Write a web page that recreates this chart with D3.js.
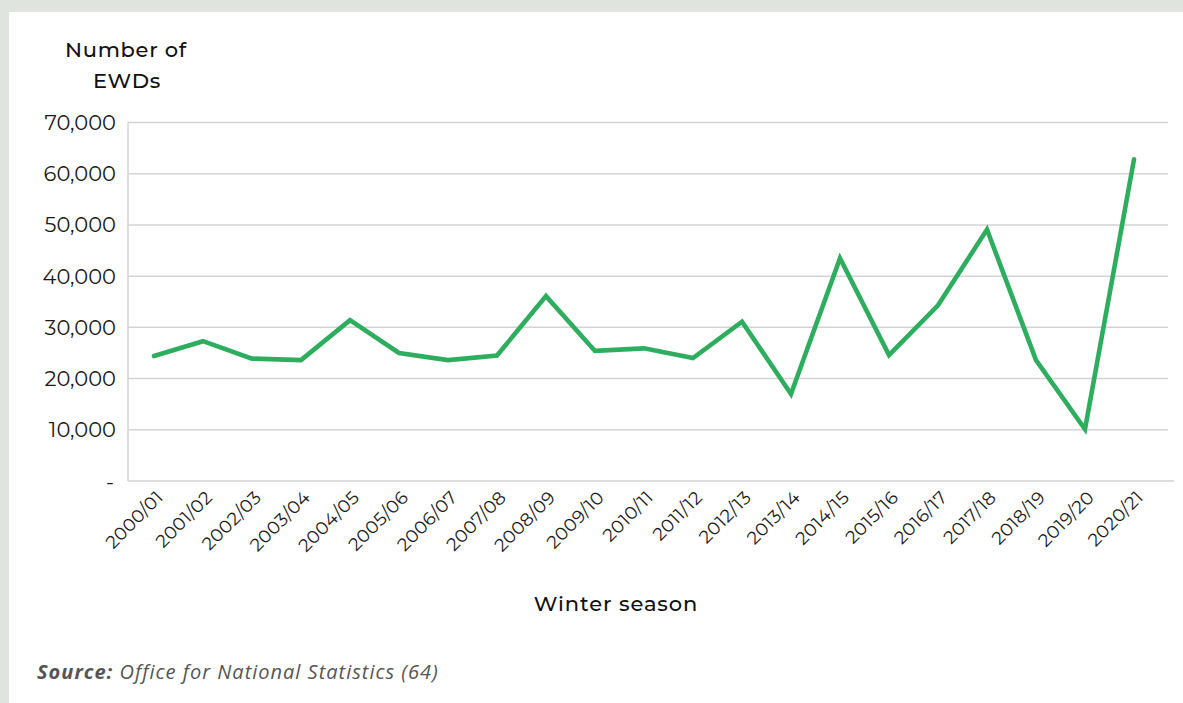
<!DOCTYPE html>
<html><head><meta charset="utf-8">
<script src="https://cdn.jsdelivr.net/npm/d3@7"></script>
<style>
html,body{margin:0;padding:0;background:#dfe4de;}
svg{display:block;}
</style></head>
<body>
<svg id="chart" width="1183" height="703"></svg>
<script>
const seasons = ["2000/01","2001/02","2002/03","2003/04","2004/05","2005/06","2006/07","2007/08","2008/09","2009/10","2010/11","2011/12","2012/13","2013/14","2014/15","2015/16","2016/17","2017/18","2018/19","2019/20","2020/21"];
const ewds = [24400,27300,23900,23600,31400,25000,23600,24500,36100,25400,25900,24000,31100,17000,43500,24600,34300,49100,23600,10100,62800];
const yTicks = [0,10000,20000,30000,40000,50000,60000,70000];

const svg = d3.select("#chart");
const W = 1183, H = 703;
svg.append("rect").attr("x",9).attr("y",12).attr("width",W-9).attr("height",H-12).attr("fill","#fff");

const fontMain = "Montserrat, Lato, 'Open Sans', sans-serif";
const x = d3.scalePoint().domain(seasons).range([154,1134]);
const y = d3.scaleLinear().domain([0,70000]).range([481,122.5]);

const g = svg.append("g");
g.selectAll("line.grid").data(yTicks.filter(d=>d>0)).enter().append("line")
  .attr("x1",128).attr("x2",1168).attr("y1",d=>y(d)).attr("y2",d=>y(d))
  .attr("stroke","#d3d3d3").attr("stroke-width",1.5);
g.append("line").attr("x1",128).attr("x2",1174).attr("y1",y(0)).attr("y2",y(0)).attr("stroke","#d3d3d3").attr("stroke-width",1.5);
g.append("line").attr("x1",128).attr("x2",128).attr("y1",y(70000)).attr("y2",y(0)).attr("stroke","#d3d3d3").attr("stroke-width",1.5);

const fmt = d3.format(",");
g.selectAll("text.yt").data(yTicks).enter().append("text")
  .attr("x",d=>d===0?114:116).attr("y",d=>y(d)).attr("dy","0.36em")
  .attr("text-anchor","end").attr("font-family",fontMain).attr("font-size",21)
  .attr("letter-spacing",0).attr("fill","#1a1a1a").text(d=>d===0?"-":fmt(d));

g.selectAll("text.xt").data(seasons).enter().append("text")
  .attr("transform",d=>`translate(${x(d)+6},${494}) rotate(-45)`)
  .attr("text-anchor","end").attr("dy","0.35em").attr("letter-spacing",0.4)
  .attr("font-family",fontMain).attr("font-size",18).attr("fill","#1a1a1a").text(d=>d);

const line = d3.line().x((d,i)=>x(seasons[i])).y(d=>y(d));
svg.append("path").datum(ewds).attr("d",line).attr("fill","none")
  .attr("stroke","#2fad5f").attr("stroke-width",4.6).attr("stroke-linejoin","miter").attr("stroke-linecap","round");

const yt = svg.append("text").attr("font-family",fontMain).attr("font-size",21).attr("font-weight",500)
  .attr("letter-spacing",0.7).attr("fill","#111").attr("text-anchor","middle");
yt.append("tspan").attr("x",126).attr("y",57).text("Number of");
yt.append("tspan").attr("x",127).attr("y",88).text("EWDs");

svg.append("text").attr("x",616).attr("y",611).attr("text-anchor","middle").attr("letter-spacing",0.9)
  .attr("font-family",fontMain).attr("font-size",21).attr("font-weight",500).attr("fill","#111").text("Winter season");

const src = svg.append("text").attr("x",37).attr("y",679).attr("font-family","'Open Sans', 'Noto Sans', sans-serif")
  .attr("font-size",20).attr("font-style","italic").attr("letter-spacing",1.0).attr("fill","#555");
src.append("tspan").attr("font-weight",700).text("Source:");
src.append("tspan").text(" Office for National Statistics (64)");
</script>
</body></html>
